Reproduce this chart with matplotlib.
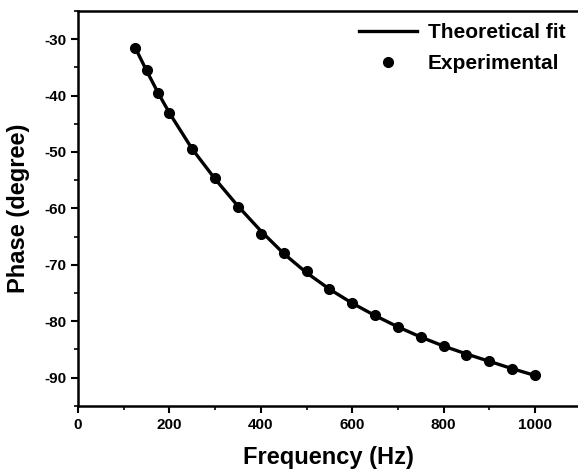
import numpy as np
import matplotlib.pyplot as plt
from matplotlib.ticker import MultipleLocator

plt.rcParams['font.family'] = ['Liberation Sans', 'DejaVu Sans']
plt.rcParams['font.weight'] = 'bold'
plt.rcParams['axes.unicode_minus'] = False

# measured phase vs frequency
freq = [125, 150, 175, 200, 250, 300, 350, 400, 450, 500, 550, 600,
        650, 700, 750, 800, 850, 900, 950, 1000]
phase_exp = [-31.5, -35.5, -39.6, -43.1, -49.4, -54.7, -59.7, -64.6, -67.9, -71.1,
             -74.3, -76.7, -78.9, -81.0, -82.8, -84.4, -85.9, -87.1, -88.4, -89.6]
# theoretical fit
phase_fit = [-31.5, -35.6, -39.5, -43.1, -49.5, -54.8, -59.6, -64.0, -68.0, -71.4,
             -74.3, -76.8, -79.0, -81.0, -82.8, -84.4, -85.8, -87.1, -88.4, -89.6]

fig = plt.figure(figsize=(5.78, 4.72), dpi=100)
ax = fig.add_axes([0.135, 0.140, 0.865, 0.837])

ax.plot(freq, phase_fit, color='black', lw=2.4, label='Theoretical fit', zorder=2)
ax.plot(freq, phase_exp, 'o', color='black', ms=7, label='Experimental', zorder=3)

ax.set_xlim(0, 1094)
ax.set_ylim(-95, -25)
ax.xaxis.set_major_locator(MultipleLocator(200))
ax.xaxis.set_minor_locator(MultipleLocator(100))
ax.yaxis.set_major_locator(MultipleLocator(10))
ax.yaxis.set_minor_locator(MultipleLocator(5))
ax.tick_params(which='major', direction='out', length=5, width=1.5, labelsize=11)
ax.tick_params(which='minor', direction='out', length=3, width=1.2)
ax.spines['right'].set_visible(False)
for s in ['left', 'bottom', 'top']:
    ax.spines[s].set_linewidth(1.8)

ax.set_xlabel('Frequency (Hz)', fontsize=17, fontweight='bold', labelpad=10)
ax.set_ylabel('Phase (degree)', fontsize=17, fontweight='bold', labelpad=10)

leg = ax.legend(loc='upper right', bbox_to_anchor=(1.0, 1.0), frameon=False,
                handlelength=2.8, handletextpad=0.5, labelspacing=0.55,
                borderpad=0.3, borderaxespad=0.3,
                prop={'weight': 'bold', 'size': 15})

fig.savefig('out.png', dpi=100)
